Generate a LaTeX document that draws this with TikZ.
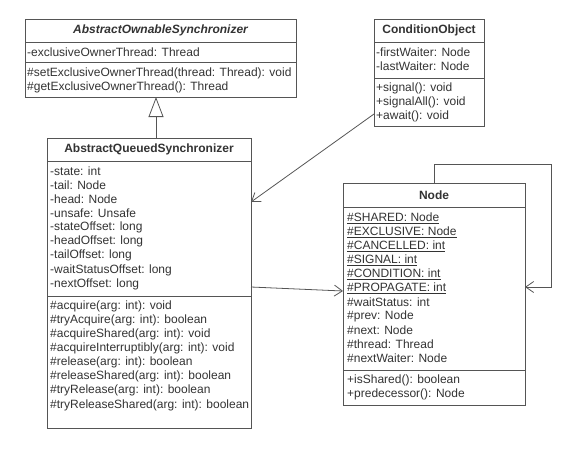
\documentclass[tikz,border=0pt]{standalone}
\usepackage{fontspec}
\setmainfont{Liberation Sans}
\usetikzlibrary{arrows.meta}
\definecolor{ln}{HTML}{555555}
\definecolor{tx}{HTML}{333333}
\tikzset{
 umlbox/.style={draw=ln, line width=0.9pt, fill=white, anchor=north west, inner sep=0pt, outer sep=0pt},
 row/.style={anchor=west, inner sep=0pt, text=tx, font=\fontsize{12}{14}\selectfont},
 ttl/.style={anchor=center, inner sep=0pt, text=tx, font=\fontsize{12}{14}\selectfont\bfseries},
 sepline/.style={draw=ln, line width=0.9pt},
 assoc/.style={draw=ln, line width=0.8pt, -{Straight Barb[length=8pt,width=11pt]}},
 inherit/.style={draw=ln, line width=0.8pt, -{Triangle[open,length=20pt,width=15pt,fill=white]}},
}
\begin{document}
\begin{tikzpicture}[x=1pt,y=-1pt]
\useasboundingbox (0,0) rectangle (580,448);
% AbstractOwnableSynchronizer
\node[umlbox, minimum width=271pt, minimum height=78pt] (aos) at (25,19) {};
\draw[sepline] (25,42) -- (296,42);
\draw[sepline] (25,62) -- (296,62);
\node[ttl, font=\fontsize{12}{14}\selectfont\bfseries\itshape] (aost) at (160.5,30.5) {AbstractOwnableSynchronizer};
\node[row] (aosf1) at (27,52) {-exclusiveOwnerThread: Thread};
\node[row] (aosm1) at (27,73) {\#setExclusiveOwnerThread(thread: Thread): void};
\node[row] (aosm2) at (27,87) {\#getExclusiveOwnerThread(): Thread};
% ConditionObject
\node[umlbox, minimum width=110pt, minimum height=107pt] (co) at (374,19) {};
\draw[sepline] (374,42) -- (484,42);
\draw[sepline] (374,78) -- (484,78);
\node[ttl] (cot) at (429,30.5) {ConditionObject};
\node[row] (cof1) at (376,52) {-firstWaiter: Node};
\node[row] (cof2) at (376,66) {-lastWaiter: Node};
\node[row] (com1) at (376,88) {+signal(): void};
\node[row] (com2) at (376,102) {+signalAll(): void};
\node[row] (com3) at (376,116) {+await(): void};
% AbstractQueuedSynchronizer
\node[umlbox, minimum width=204pt, minimum height=290pt] (aqs) at (47,138) {};
\draw[sepline] (47,161) -- (251,161);
\draw[sepline] (47,296) -- (251,296);
\node[ttl] (aqst) at (149,149.5) {AbstractQueuedSynchronizer};
\foreach \t [count=\i] in {-state: int, -tail: Node, -head: Node, -unsafe: Unsafe, -stateOffset: long, -headOffset: long, -tailOffset: long, -waitStatusOffset: long, -nextOffset: long}
  \node[row] (aqsf\i) at (50,{171+14.13*(\i-1)}) {\t};
\foreach \t [count=\i] in {\#acquire(arg: int): void, \#tryAcquire(arg: int): boolean, \#acquireShared(arg: int): void, \#acquireInterruptibly(arg: int): void, \#release(arg: int): boolean, \#releaseShared(arg: int): boolean, \#tryRelease(arg: int): boolean, \#tryReleaseShared(arg: int): boolean}
  \node[row] (aqsm\i) at (50,{306+14.14*(\i-1)}) {\t};
% Node
\node[umlbox, minimum width=182pt, minimum height=222pt] (nd) at (343,183) {};
\draw[sepline] (343,207) -- (525,207);
\draw[sepline] (343,370) -- (525,370);
\node[ttl] (ndt) at (434,195) {Node};
\foreach \t [count=\i] in {\underline{\#SHARED: Node}, \underline{\#EXCLUSIVE: Node}, \underline{\#CANCELLED: int}, \underline{\#SIGNAL: int}, \underline{\#CONDITION: int}, \underline{\#PROPAGATE: int}, \#waitStatus: int, \#prev: Node, \#next: Node, \#thread: Thread, \#nextWaiter: Node}
  \node[row] (ndf\i) at (347,{218+14*(\i-1)}) {\t};
\node[row] (ndm1) at (347,380) {+isShared(): boolean};
\node[row] (ndm2) at (347,394) {+predecessor(): Node};
% connectors
\coordinate (ix) at (156,0);
\draw[inherit] (aqs.north -| ix) -- (aos.south -| ix);
\coordinate (c1) at (0,114);
\coordinate (c2) at (0,202);
\draw[assoc] (co.west |- c1) -- (aqs.east |- c2);
\coordinate (a1) at (0,287);
\coordinate (a2) at (0,291);
\draw[assoc] (aqs.east |- a1) -- (nd.west |- a2);
\coordinate (lp1) at (434,164);
\coordinate (lp2) at (551,287);
\draw[assoc] (nd.north -| lp1) -- (lp1) -| (lp2) -- (nd.east |- lp2);
\end{tikzpicture}
\end{document}
